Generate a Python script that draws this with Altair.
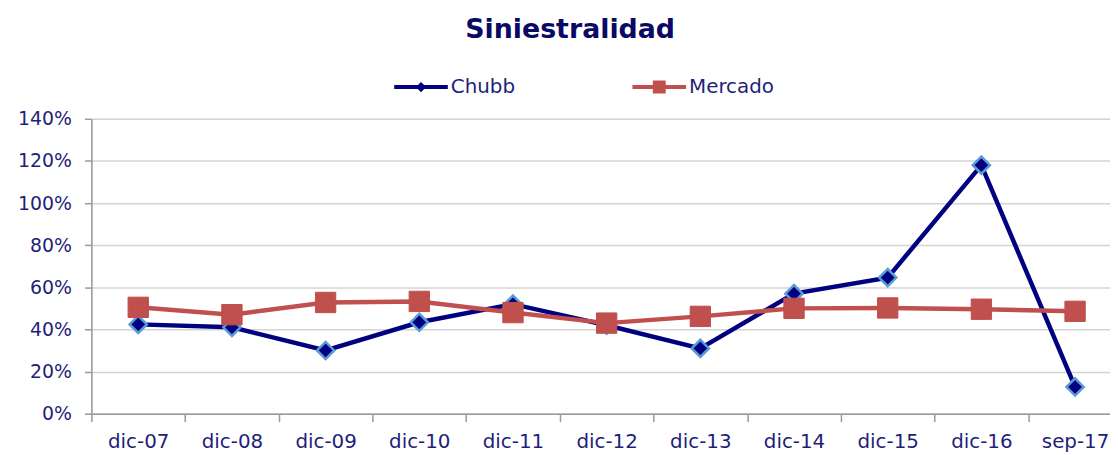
import altair as alt
import pandas as pd

periods = ["dic-07", "dic-08", "dic-09", "dic-10", "dic-11", "dic-12",
           "dic-13", "dic-14", "dic-15", "dic-16", "sep-17"]
chubb = [0.424, 0.41, 0.30, 0.434, 0.52, 0.42, 0.31, 0.57, 0.646, 1.18, 0.127]
mercado = [0.505, 0.47, 0.528, 0.533, 0.48, 0.43, 0.462, 0.50, 0.502, 0.496, 0.486]
series_names = ["Chubb", "Mercado"]
series_colors = ["#000080", "#c0504d"]
y_ticks = [0, 0.2, 0.4, 0.6, 0.8, 1.0, 1.2, 1.4]

legend_paths = [
    "M-1,-0.075H1V0.075H-1Z M0,-0.19L0.19,0L0,0.19L-0.19,0Z",
    "M-1,-0.075H1V0.075H-1Z M-0.24,-0.24H0.24V0.24H-0.24Z",
]

df = pd.DataFrame({
    "periodo": periods * 2,
    "serie": [series_names[0]] * len(periods) + [series_names[1]] * len(periods),
    "valor": chubb + mercado,
})

LABEL = "#1f1f7a"
GRID = "#d4d4d4"
AXISC = "#9a9a9a"

x_enc = alt.X(
    "periodo:N", sort=periods, title=None, bandPosition=0.5,
    scale=alt.Scale(type="band", paddingInner=0, paddingOuter=0, range=[0, 1038]),
    axis=alt.Axis(labelAngle=0, tickBand="extent", labelFontSize=20, labelColor=LABEL,
                  labelFont="DejaVu Sans", tickColor=AXISC, tickSize=8, tickWidth=1.5,
                  domainColor=AXISC, domainWidth=1.5, labelPadding=10, grid=False),
)
y_enc = alt.Y(
    "valor:Q", title=None,
    scale=alt.Scale(domain=[0, 1.4], nice=False, zero=True),
    axis=alt.Axis(values=y_ticks, format=".0%", labelFontSize=19, labelColor=LABEL,
                  labelFont="DejaVu Sans", tickColor=AXISC, tickSize=7, tickWidth=1.5,
                  domainColor=AXISC, domainWidth=1.5, labelPadding=13,
                  gridColor=GRID, gridWidth=1.5),
)

base = alt.Chart(df).encode(x=x_enc, y=y_enc)

chubb_line = base.transform_filter(alt.datum.serie == "Chubb").mark_line(
    color=series_colors[0], strokeWidth=4.5)
chubb_pts = base.transform_filter(alt.datum.serie == "Chubb").mark_point(
    shape="diamond", size=300, filled=True, fill=series_colors[0],
    stroke="#5b9bd5", strokeWidth=2.5, opacity=1)
merc_line = base.transform_filter(alt.datum.serie == "Mercado").mark_line(
    color=series_colors[1], strokeWidth=4.5)
merc_pts = base.transform_filter(alt.datum.serie == "Mercado").mark_point(
    shape="square", size=420, filled=True, fill=series_colors[1],
    stroke=series_colors[1], strokeWidth=1, opacity=1)

leg = dict(title=None, orient="none", legendX=305, legendY=-59,
           direction="horizontal", symbolSize=2916, symbolStrokeWidth=0,
           labelFontSize=20, labelColor=LABEL, labelFont="DejaVu Sans",
           labelOffset=3, columnPadding=118, padding=0)

legend_layer = base.transform_filter("false").mark_point(filled=True, opacity=1).encode(
    color=alt.Color("serie:N", scale=alt.Scale(domain=series_names, range=series_colors),
                    legend=alt.Legend(**leg)),
    shape=alt.Shape("serie:N", scale=alt.Scale(domain=series_names, range=legend_paths),
                    legend=alt.Legend(**leg)),
)

chart = alt.layer(chubb_line, chubb_pts, merc_line, merc_pts, legend_layer).properties(
    width=1026, height=297,
    autosize=alt.AutoSizeParams(type="none"),
    padding={"left": 84, "top": 110, "right": 0, "bottom": 40},
    title=alt.TitleParams("Siniestralidad", fontSize=27, fontWeight="bold",
                          font="DejaVu Sans", color="#0a0a66", anchor="middle",
                          frame="bounds", offset=16),
).configure_view(stroke=None).configure(background="white")

chart.save("out.html", embed_options={"renderer": "svg", "actions": False})
